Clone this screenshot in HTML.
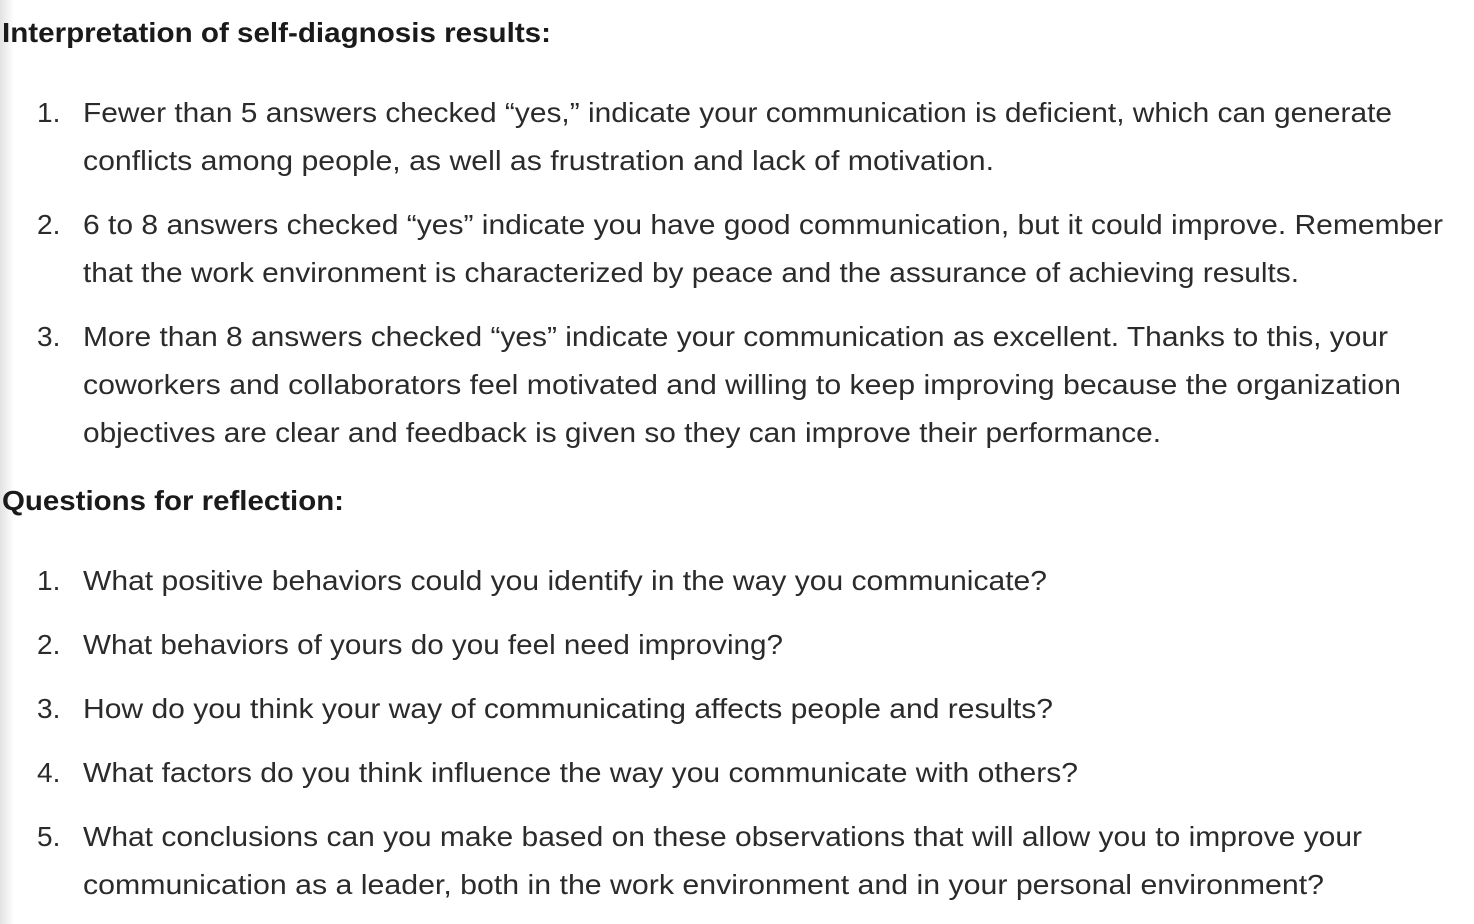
<!DOCTYPE html>
<html><head><meta charset="utf-8"><style>
html,body{margin:0;padding:0;background:#fff;width:1474px;height:924px;overflow:hidden}
#shadow{position:absolute;left:0;top:0;width:14px;height:924px;background:linear-gradient(to right,#e2e2e2,#fff)}
svg{position:absolute;left:0;top:0}
text{font-family:"Liberation Sans",sans-serif;font-size:28px;fill:#2b2b2b}
.b{font-weight:bold;fill:#1a1a1a}
</style></head><body>
<div id="shadow"></div>
<svg width="1474" height="924">
<text class="b" x="2" y="42" textLength="549" lengthAdjust="spacingAndGlyphs">Interpretation of self-diagnosis results:</text>
<g>
<text x="37" y="122">1.</text>
<text x="83" y="122" textLength="1309" lengthAdjust="spacingAndGlyphs">Fewer than 5 answers checked “yes,” indicate your communication is deficient, which can generate</text>
<text x="83" y="170" textLength="911" lengthAdjust="spacingAndGlyphs">conflicts among people, as well as frustration and lack of motivation.</text>
<text x="37" y="234">2.</text>
<text x="83" y="234" textLength="1360" lengthAdjust="spacingAndGlyphs">6 to 8 answers checked “yes” indicate you have good communication, but it could improve. Remember</text>
<text x="83" y="282" textLength="1216" lengthAdjust="spacingAndGlyphs">that the work environment is characterized by peace and the assurance of achieving results.</text>
<text x="37" y="346">3.</text>
<text x="83" y="346" textLength="1305" lengthAdjust="spacingAndGlyphs">More than 8 answers checked “yes” indicate your communication as excellent. Thanks to this, your</text>
<text x="83" y="394" textLength="1318" lengthAdjust="spacingAndGlyphs">coworkers and collaborators feel motivated and willing to keep improving because the organization</text>
<text x="83" y="442" textLength="1078" lengthAdjust="spacingAndGlyphs">objectives are clear and feedback is given so they can improve their performance.</text>
</g>
<text class="b" x="2" y="510" textLength="342" lengthAdjust="spacingAndGlyphs">Questions for reflection:</text>
<g>
<text x="37" y="590">1.</text>
<text x="83" y="590" textLength="964" lengthAdjust="spacingAndGlyphs">What positive behaviors could you identify in the way you communicate?</text>
<text x="37" y="654">2.</text>
<text x="83" y="654" textLength="700" lengthAdjust="spacingAndGlyphs">What behaviors of yours do you feel need improving?</text>
<text x="37" y="718">3.</text>
<text x="83" y="718" textLength="970" lengthAdjust="spacingAndGlyphs">How do you think your way of communicating affects people and results?</text>
<text x="37" y="782">4.</text>
<text x="83" y="782" textLength="995" lengthAdjust="spacingAndGlyphs">What factors do you think influence the way you communicate with others?</text>
<text x="37" y="846">5.</text>
<text x="83" y="846" textLength="1279" lengthAdjust="spacingAndGlyphs">What conclusions can you make based on these observations that will allow you to improve your</text>
<text x="83" y="894" textLength="1241" lengthAdjust="spacingAndGlyphs">communication as a leader, both in the work environment and in your personal environment?</text>
</g>
</svg>
</body></html>
